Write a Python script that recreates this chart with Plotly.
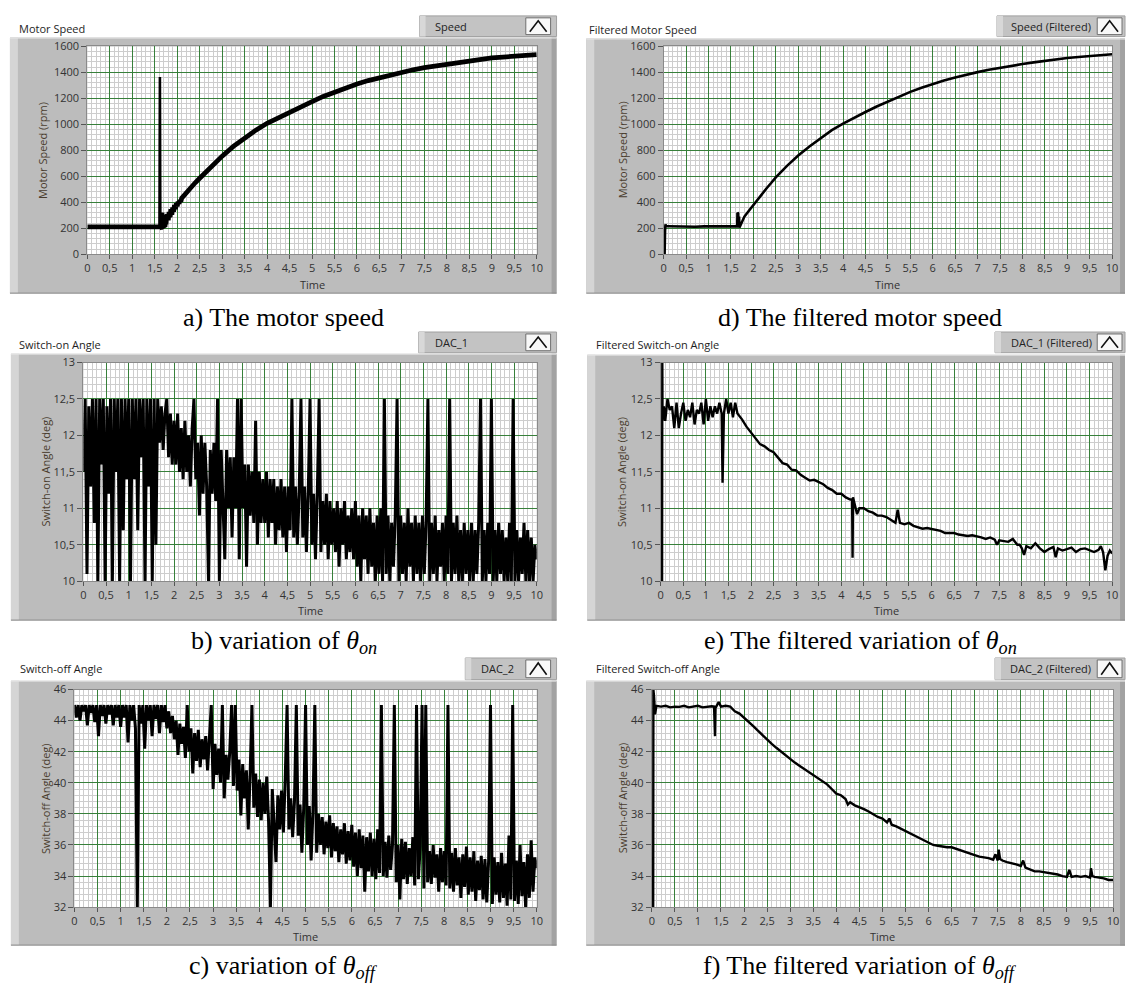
import plotly.graph_objects as go

W, H = 1131, 989

# ---------------- data ----------------
x_tick_vals = [0, 0.5, 1, 1.5, 2, 2.5, 3, 3.5, 4, 4.5, 5, 5.5, 6, 6.5, 7, 7.5, 8, 8.5, 9, 9.5, 10]
x_tick_text = ["0", "0,5", "1", "1,5", "2", "2,5", "3", "3,5", "4", "4,5", "5", "5,5",
               "6", "6,5", "7", "7,5", "8", "8,5", "9", "9,5", "10"]
speed_tick_vals = [0, 200, 400, 600, 800, 1000, 1200, 1400, 1600]
speed_tick_text = ["0", "200", "400", "600", "800", "1000", "1200", "1400", "1600"]
on_tick_vals = [10, 10.5, 11, 11.5, 12, 12.5, 13]
on_tick_text = ["10", "10,5", "11", "11,5", "12", "12,5", "13"]
off_tick_vals = [32, 34, 36, 38, 40, 42, 44, 46]
off_tick_text = ["32", "34", "36", "38", "40", "42", "44", "46"]

# a) raw motor speed (time, rpm) -- the short transient spike, then the noisy rise
speed_spike = [(1.605, 210), (1.615, 1365), (1.625, 210)]
speed_raw = [(0, 210), (1.65, 210),
             (1.66, 320), (1.67, 212), (1.68, 315), (1.69, 215), (1.70, 305), (1.71, 218),
             (1.72, 300), (1.73, 222), (1.74, 295), (1.75, 230), (1.76, 292),
             (1.78, 300), (1.80, 262), (1.82, 325), (1.84, 285), (1.86, 345), (1.88, 305),
             (1.90, 360), (1.92, 328), (1.94, 378), (1.96, 348), (1.98, 392), (2.00, 368),
             (2.02, 405), (2.04, 388), (2.06, 418), (2.08, 405), (2.10, 432),
             (2.2, 475), (2.3, 515), (2.4, 550), (2.5, 585), (2.6, 620), (2.7, 655),
             (2.8, 690), (2.9, 725), (3.0, 755), (3.25, 830), (3.5, 895), (3.75, 955),
             (4.0, 1008), (4.25, 1052), (4.5, 1095), (4.75, 1138), (5.0, 1175), (5.25, 1215),
             (5.5, 1250), (5.75, 1282), (6.0, 1311), (6.25, 1337), (6.5, 1360), (6.75, 1382),
             (7.0, 1402), (7.25, 1420), (7.5, 1436), (7.75, 1450), (8.0, 1463), (8.25, 1477),
             (8.5, 1490), (8.75, 1501), (9.0, 1511), (9.25, 1518), (9.5, 1525), (9.75, 1530),
             (10.0, 1537)]

# d) filtered motor speed (time, rpm)
speed_filt = [(0.0, 0), (0.02, 0), (0.03, 180), (0.04, 230), (0.05, 215), (0.1, 215),
              (0.3, 213), (0.5, 215), (0.7, 212), (0.9, 214), (1.1, 213), (1.3, 215),
              (1.5, 213), (1.64, 215), (1.645, 320), (1.66, 315), (1.665, 215), (1.68, 290),
              (1.69, 205), (1.72, 230), (1.8, 290), (1.9, 335), (2.0, 380), (2.1, 425),
              (2.2, 470), (2.3, 510), (2.4, 550), (2.5, 592), (2.75, 680), (3.0, 760),
              (3.25, 830), (3.5, 895), (3.75, 955), (4.0, 1005), (4.25, 1052), (4.5, 1095),
              (4.75, 1137), (5.0, 1175), (5.25, 1213), (5.5, 1250), (5.75, 1282), (6.0, 1311),
              (6.25, 1337), (6.5, 1360), (6.75, 1382), (7.0, 1402), (7.25, 1420), (7.5, 1436),
              (7.75, 1450), (8.0, 1464), (8.25, 1477), (8.5, 1490), (8.75, 1501), (9.0, 1511),
              (9.25, 1518), (9.5, 1525), (9.75, 1531), (10.0, 1540)]

# b) raw switch-on angle, one sample every 0.04 s
raw_step = 0.04
on_raw = [
    11.5, 12.5, 10.1, 12.4, 11.3, 12.5, 10.8, 12.5, 10.0, 12.5, 11.6, 12.5, 10.0, 12.4, 11.2, 12.5, 10.0, 12.5, 11.5, 12.5, 10.0, 12.5, 10.7, 12.5, 11.4,
    12.5, 10.0, 12.5, 11.4, 12.5, 10.7, 12.5, 11.7, 12.5, 10.0, 12.5, 11.3, 12.5, 10.0, 12.5, 10.5, 12.5, 11.9, 12.4, 11.8, 12.3, 12.5, 11.7, 12.3, 11.6,
    12.2, 11.6, 12.3, 11.5, 12.1, 11.4, 12.2, 11.5, 12.0, 11.3, 12.1, 12.5, 11.4, 11.9, 10.9, 12.0, 11.2, 11.9, 11.3, 10.0, 11.8, 11.2, 11.9, 11.1, 12.5,
    10.0, 11.8, 11.1, 10.3, 11.8, 11.0, 11.7, 10.6, 11.7, 11.0, 12.5, 10.3, 12.5, 11.0, 11.6, 10.2, 11.6, 10.9, 11.5, 10.8, 12.2, 10.5, 11.5, 10.8, 11.4,
    10.8, 11.5, 10.6, 11.4, 10.8, 11.4, 10.5, 11.3, 10.7, 11.4, 10.6, 11.3, 10.4, 11.3, 10.7, 12.5, 10.6, 11.3, 10.5, 11.2, 12.5, 10.6, 11.3, 10.4, 11.2,
    12.5, 10.5, 11.2, 10.3, 11.2, 12.5, 10.4, 11.1, 10.5, 11.2, 10.3, 11.1, 10.5, 11.0, 10.4, 11.1, 10.2, 11.0, 10.5, 11.1, 10.3, 10.9, 10.4, 11.0, 10.3,
    11.1, 10.2, 10.9, 10.0, 11.0, 10.3, 10.9, 10.1, 11.0, 10.2, 10.8, 10.0, 10.9, 10.1, 11.0, 10.0, 12.5, 10.1, 10.9, 10.0, 10.8, 10.2, 10.9, 12.5, 10.0,
    10.9, 10.1, 10.8, 10.0, 11.0, 10.2, 10.8, 10.0, 10.9, 10.1, 10.8, 10.0, 10.9, 10.1, 10.8, 12.5, 10.0, 10.8, 10.1, 10.9, 10.0, 10.7, 10.2, 10.8, 10.0,
    10.9, 10.1, 12.5, 10.0, 10.8, 10.1, 10.9, 10.0, 10.7, 10.0, 10.8, 10.1, 10.7, 10.0, 10.8, 10.0, 10.7, 10.1, 10.8, 12.5, 10.0, 10.7, 10.0, 10.8, 10.1,
    12.5, 10.0, 10.7, 10.0, 10.8, 10.1, 10.7, 10.0, 10.6, 10.0, 10.8, 10.0, 12.5, 10.0, 10.7, 10.0, 10.6, 10.1, 10.8, 10.0, 10.7, 10.0, 10.6, 10.0, 10.5, 10.3,
]

# c) raw switch-off angle, one sample every 0.04 s
off_raw = [
    45.0, 44.2, 45.0, 44.0, 45.0, 44.6, 45.0, 43.7, 45.0, 44.5, 45.0, 43.9, 45.0, 43.0, 45.0, 44.3, 45.0, 43.8, 45.0, 44.4, 45.0, 43.7, 45.0, 44.2, 45.0,
    43.6, 45.0, 44.2, 45.0, 42.6, 45.0, 44.0, 45.0, 43.5, 32.0, 45.0, 43.8, 45.0, 42.2, 45.0, 44.0, 45.0, 43.0, 45.0, 44.1, 45.0, 43.2, 45.0, 43.9, 45.0,
    43.5, 44.6, 43.2, 44.3, 42.8, 44.0, 41.8, 43.8, 42.5, 43.6, 41.6, 45.0, 42.0, 43.5, 40.6, 43.2, 41.4, 43.4, 41.0, 42.8, 41.5, 43.0, 40.8, 42.6, 45.0,
    39.6, 42.5, 40.5, 42.2, 40.0, 45.0, 39.0, 41.8, 40.2, 42.0, 45.0, 39.8, 45.0, 39.5, 41.5, 37.9, 41.2, 39.0, 40.8, 37.0, 40.5, 45.0, 38.4, 40.6, 37.8,
    40.2, 37.6, 40.0, 38.0, 40.4, 37.5, 32.0, 39.6, 37.2, 34.9, 39.2, 37.0, 39.5, 36.8, 40.3, 45.0, 37.0, 39.0, 36.5, 38.8, 45.0, 36.6, 38.6, 35.5, 38.4,
    45.0, 36.0, 38.5, 35.0, 38.2, 45.0, 35.5, 38.0, 36.0, 37.8, 35.4, 37.5, 35.8, 37.9, 35.2, 37.4, 35.6, 37.2, 34.9, 37.0, 35.4, 37.4, 34.8, 36.9, 35.0,
    37.3, 34.6, 36.8, 34.0, 37.0, 34.5, 36.6, 33.0, 36.5, 34.3, 36.8, 34.0, 36.4, 33.8, 37.0, 34.2, 45.0, 34.0, 36.2, 33.9, 36.6, 34.4, 36.0, 45.0, 33.6,
    36.0, 32.5, 36.4, 33.8, 36.2, 33.5, 35.8, 34.0, 36.5, 33.4, 45.0, 33.8, 35.9, 45.0, 33.2, 45.0, 33.6, 35.6, 33.5, 36.0, 33.9, 35.4, 33.0, 35.8, 33.6,
    35.6, 33.4, 45.0, 33.2, 35.5, 33.0, 35.8, 33.4, 35.2, 32.6, 35.4, 33.3, 35.9, 32.8, 35.2, 33.0, 35.6, 32.4, 35.0, 33.1, 35.3, 32.5, 35.1, 32.3, 35.0,
    45.0, 32.2, 35.2, 32.8, 34.9, 32.3, 35.5, 32.6, 34.8, 32.1, 36.6, 32.5, 45.0, 32.4, 35.0, 32.2, 36.0, 32.7, 34.9, 32.0, 35.4, 32.6, 36.3, 33.0, 35.2, 34.5,
]

# e) filtered switch-on angle (time, deg)
on_filt = [(0.03, 10.0), (0.035, 13.0), (0.04, 12.2), (0.07, 12.4), (0.1, 12.2), (0.15, 12.5),
           (0.2, 12.35), (0.25, 12.4), (0.3, 12.1), (0.35, 12.45), (0.4, 12.1), (0.45, 12.3),
           (0.5, 12.45), (0.55, 12.2), (0.6, 12.35), (0.65, 12.25), (0.7, 12.45), (0.75, 12.15),
           (0.8, 12.35), (0.85, 12.3), (0.9, 12.45), (0.95, 12.15), (1.0, 12.5), (1.05, 12.2),
           (1.1, 12.4), (1.15, 12.25), (1.2, 12.4), (1.25, 12.3), (1.3, 12.45), (1.35, 12.3),
           (1.37, 11.35), (1.4, 12.3), (1.45, 12.5), (1.5, 12.3), (1.55, 12.45), (1.6, 12.25),
           (1.65, 12.45), (1.7, 12.3), (1.8, 12.22), (1.9, 12.12), (2.0, 12.04), (2.1, 11.97),
           (2.2, 11.88), (2.3, 11.85), (2.4, 11.8), (2.5, 11.77), (2.6, 11.7), (2.7, 11.62),
           (2.8, 11.6), (2.9, 11.53), (3.0, 11.52), (3.1, 11.46), (3.2, 11.42), (3.3, 11.38),
           (3.4, 11.39), (3.5, 11.36), (3.6, 11.33), (3.7, 11.28), (3.8, 11.25), (3.9, 11.2),
           (4.0, 11.2), (4.1, 11.15), (4.2, 11.12), (4.24, 11.12), (4.25, 10.32), (4.26, 11.15),
           (4.3, 11.05), (4.35, 10.92), (4.4, 11.0), (4.5, 11.0), (4.6, 10.96), (4.7, 10.94),
           (4.8, 10.9), (4.9, 10.9), (5.0, 10.88), (5.1, 10.84), (5.2, 10.8), (5.25, 10.98),
           (5.3, 10.8), (5.4, 10.78), (5.5, 10.8), (5.6, 10.76), (5.7, 10.74), (5.8, 10.72),
           (5.9, 10.73), (6.0, 10.72), (6.1, 10.7), (6.2, 10.69), (6.3, 10.66), (6.4, 10.66),
           (6.5, 10.66), (6.6, 10.64), (6.7, 10.63), (6.8, 10.62), (6.9, 10.63), (7.0, 10.62),
           (7.1, 10.6), (7.2, 10.58), (7.3, 10.6), (7.4, 10.57), (7.45, 10.5), (7.5, 10.56),
           (7.6, 10.55), (7.7, 10.54), (7.8, 10.58), (7.9, 10.5), (7.95, 10.5), (8.0, 10.45),
           (8.05, 10.36), (8.1, 10.48), (8.2, 10.45), (8.3, 10.52), (8.4, 10.45), (8.5, 10.4),
           (8.6, 10.44), (8.7, 10.47), (8.75, 10.33), (8.8, 10.45), (8.9, 10.42), (9.0, 10.44),
           (9.1, 10.46), (9.2, 10.4), (9.3, 10.44), (9.4, 10.45), (9.5, 10.42), (9.6, 10.4),
           (9.7, 10.43), (9.75, 10.48), (9.8, 10.4), (9.85, 10.15), (9.9, 10.35), (9.95, 10.42),
           (10.0, 10.38)]

# f) filtered switch-off angle (time, deg)
off_filt = [(0.03, 32.0), (0.035, 46.0), (0.04, 44.2), (0.05, 45.5), (0.07, 44.4), (0.1, 44.95),
            (0.2, 44.9), (0.3, 44.95), (0.4, 44.85), (0.5, 44.9), (0.6, 44.88), (0.7, 44.95),
            (0.8, 44.85), (0.9, 44.9), (1.0, 44.95), (1.1, 44.85), (1.2, 44.9), (1.3, 44.92),
            (1.35, 44.9), (1.37, 43.0), (1.38, 44.8), (1.4, 44.9), (1.45, 45.2), (1.5, 44.9),
            (1.6, 44.95), (1.7, 44.9), (1.8, 44.6), (1.9, 44.45), (2.0, 44.2), (2.1, 43.95),
            (2.2, 43.65), (2.3, 43.35), (2.4, 43.05), (2.5, 42.78), (2.6, 42.5), (2.7, 42.25),
            (2.8, 42.0), (2.9, 41.8), (3.0, 41.55), (3.1, 41.3), (3.2, 41.1), (3.3, 40.9),
            (3.4, 40.72), (3.5, 40.55), (3.6, 40.35), (3.7, 40.1), (3.8, 39.9), (3.9, 39.6),
            (4.0, 39.3), (4.1, 39.2), (4.2, 38.95), (4.25, 38.6), (4.3, 38.75), (4.4, 38.55),
            (4.5, 38.45), (4.6, 38.3), (4.7, 38.15), (4.8, 37.95), (4.9, 37.8), (5.0, 37.7),
            (5.1, 37.45), (5.15, 37.7), (5.2, 37.3), (5.3, 37.2), (5.4, 37.05), (5.5, 36.95),
            (5.6, 36.8), (5.7, 36.6), (5.8, 36.45), (5.9, 36.3), (6.0, 36.2), (6.1, 36.0),
            (6.2, 35.95), (6.3, 35.9), (6.4, 35.85), (6.5, 35.85), (6.6, 35.75), (6.7, 35.6),
            (6.8, 35.5), (6.9, 35.45), (7.0, 35.35), (7.1, 35.25), (7.2, 35.2), (7.3, 35.15),
            (7.4, 35.05), (7.45, 35.4), (7.5, 35.0), (7.52, 35.7), (7.55, 35.1), (7.6, 35.0),
            (7.7, 34.9), (7.8, 34.8), (7.9, 34.75), (8.0, 34.65), (8.05, 35.0), (8.1, 34.55),
            (8.2, 34.4), (8.3, 34.3), (8.4, 34.3), (8.5, 34.25), (8.6, 34.2), (8.7, 34.15),
            (8.8, 34.1), (8.9, 34.0), (9.0, 33.95), (9.05, 34.4), (9.1, 33.95), (9.2, 34.0),
            (9.3, 33.95), (9.4, 34.0), (9.5, 33.9), (9.52, 34.5), (9.55, 34.0), (9.6, 33.95),
            (9.7, 33.9), (9.8, 33.85), (9.9, 33.75), (10.0, 33.75)]

raw_t = [round(i * raw_step, 3) for i in range(len(on_raw))]
raw_t_off = [round(i * raw_step, 3) for i in range(len(off_raw))]

# each panel: list of (x, y, line width)
series = {
    "a": [([p[0] for p in speed_raw], [p[1] for p in speed_raw], 4.8),
          ([p[0] for p in speed_spike], [p[1] for p in speed_spike], 2.6)],
    "d": [([p[0] for p in speed_filt], [p[1] for p in speed_filt], 2.6)],
    "b": [(raw_t, on_raw, 3.0)],
    "c": [(raw_t_off, off_raw, 3.0)],
    "e": [([p[0] for p in on_filt], [p[1] for p in on_filt], 2.4)],
    "f": [([p[0] for p in off_filt], [p[1] for p in off_filt], 2.4)],
}

# ---------------- layout config (pixels) ----------------
panels = [
    dict(key="a", plot=(85, 39, 538, 250), box=(7, 30, 558, 290), title="Motor Speed", tx=14, ty=21,
         leg=(420, 8, 558, 29), leg_text="Speed", ltx=433, ytitle="Motor Speed (rpm)", ytx=40,
         time_y=281, cap="a) The motor speed", cx=283, cy=314, yr=(0, 1600),
         yt=(speed_tick_vals, speed_tick_text), ymin=40),
    dict(key="d", plot=(666, 39, 1118, 250), box=(588, 31, 1131, 290), title="Filtered Motor Speed",
         tx=589, ty=22, leg=(1002, 8, 1131, 29), leg_text="Speed (Filtered)", ltx=1014,
         ytitle="Motor Speed (rpm)", ytx=624, time_y=281, cap="d) The filtered motor speed",
         cx=864, cy=314, yr=(0, 1600), yt=(speed_tick_vals, speed_tick_text), ymin=40),
    dict(key="b", plot=(81, 360, 538, 582), box=(8, 351, 558, 622), title="Switch-on Angle", tx=14,
         ty=342, leg=(419, 329, 558, 350), leg_text="DAC_1", ltx=433, ytitle="Switch-on Angle (deg)",
         ytx=43, time_y=612, cap="b) variation of <i>θ</i><sub><i>on</i></sub>", cx=283, cy=644,
         yr=(10, 13), yt=(on_tick_vals, on_tick_text), ymin=0.1),
    dict(key="e", plot=(663, 360, 1118, 582), box=(589, 352, 1131, 622),
         title="Filtered Switch-on Angle", tx=596, ty=342, leg=(1000, 329, 1131, 350),
         leg_text="DAC_1 (Filtered)", ltx=1014, ytitle="Switch-on Angle (deg)", ytx=624,
         time_y=612, cap="e) The filtered variation of <i>θ</i><sub><i>on</i></sub>", cx=864,
         cy=644, yr=(10, 13), yt=(on_tick_vals, on_tick_text), ymin=0.1),
    dict(key="c", plot=(72, 692, 538, 913), box=(8, 683, 558, 952), title="Switch-off Angle", tx=15,
         ty=671, leg=(466, 660, 558, 682), leg_text="DAC_2", ltx=480, ytitle="Switch-off Angle (deg)",
         ytx=43, time_y=943, cap="c) variation of <i>θ</i><sub><i>off</i></sub>", cx=283, cy=974,
         yr=(32, 46), yt=(off_tick_vals, off_tick_text), ymin=0.4),
    dict(key="f", plot=(654, 692, 1119, 913), box=(588, 683, 1131, 952),
         title="Filtered Switch-off Angle", tx=596, ty=671, leg=(1000, 660, 1131, 682),
         leg_text="DAC_2 (Filtered)", ltx=1013, ytitle="Switch-off Angle (deg)", ytx=624,
         time_y=943, cap="f) The filtered variation of <i>θ</i><sub><i>off</i></sub>", cx=864,
         cy=974, yr=(32, 46), yt=(off_tick_vals, off_tick_text), ymin=0.4),
]

GREEN = "#37803a"
MINOR = "#cdcdcd"
TICKFONT = dict(family="Open Sans", size=11, color="#333333")


def X(px):
    return px / W


def Y(py):
    return 1 - py / H


def rect(x0, y0, x1, y1, fill, line=None, lw=0, layer="below"):
    return dict(type="rect", xref="paper", yref="paper", x0=X(x0), x1=X(x1), y0=Y(y1), y1=Y(y0),
                fillcolor=fill, line=dict(width=lw, color=line or fill), layer=layer)


def hline(x0, x1, y, color, layer="below"):
    return dict(type="line", xref="paper", yref="paper", x0=X(x0), x1=X(x1), y0=Y(y), y1=Y(y),
                line=dict(width=1, color=color), layer=layer)


fig = go.Figure()
shapes = []
annotations = []
layout_axes = {}

for i, p in enumerate(panels, start=1):
    s = "" if i == 1 else str(i)
    l, t, r, b = p["plot"]
    bx0, by0, bx1, by1 = p["box"]
    # panel body
    shapes.append(rect(bx0, by0, bx1, by1, "#bcbcbc"))
    shapes.append(rect(bx0, by0, bx0 + 8, by1, "#d5d5d5"))
    shapes.append(rect(bx1 - 5, by0, bx1, by1, "#a2a2a2"))
    shapes.append(hline(bx0, bx1, by0 + 0.5, "#e6e6e6"))
    shapes.append(hline(bx0, bx1, by1 - 0.5, "#8c8c8c"))
    # plot area
    shapes.append(rect(l, t, r, b, "#ffffff"))
    # legend box + button
    lx0, ly0, lx1, ly1 = p["leg"]
    shapes.append(rect(lx0, ly0, lx1, ly1, "#c3c3c3", "#a0a0a0", 1, "above"))
    shapes.append(rect(lx0, ly0, lx0 + 6, ly1, "#d8d8d8", None, 0, "above"))
    btx1 = lx1 - 6 if lx1 < 1130 else lx1 - 3
    btx0 = btx1 - 25
    shapes.append(rect(btx0, ly0 + 2, btx1, ly1 - 2, "#f8f8f8", "#707070", 1, "above"))
    cxm = (btx0 + btx1) / 2
    shapes.append(dict(type="path", xref="paper", yref="paper", layer="above",
                       path=f"M {X(btx0 + 4)},{Y(ly1 - 5)} L {X(cxm)},{Y(ly0 + 5)} L {X(btx1 - 4)},{Y(ly1 - 5)}",
                       line=dict(color="#111111", width=1.6)))
    annotations.append(dict(x=X(p["ltx"]), y=Y((ly0 + ly1) / 2), xref="paper", yref="paper",
                            text=p["leg_text"], showarrow=False, xanchor="left", yanchor="middle",
                            font=dict(family="Open Sans", size=11, color="#222222")))
    # titles
    annotations.append(dict(x=X(p["tx"]), y=Y(p["ty"]), xref="paper", yref="paper", text=p["title"],
                            showarrow=False, xanchor="left", yanchor="middle",
                            font=dict(family="Open Sans", size=11, color="#1e1e1e")))
    annotations.append(dict(x=X(p["ytx"]), y=Y((t + b) / 2), xref="paper", yref="paper",
                            text=p["ytitle"], textangle=-90, showarrow=False, xanchor="center",
                            yanchor="middle", font=dict(family="Open Sans", size=11, color="#4a3d2e")))
    annotations.append(dict(x=X((l + r) / 2), y=Y(p["time_y"]), xref="paper", yref="paper",
                            text="Time", showarrow=False, xanchor="center", yanchor="middle",
                            font=dict(family="Open Sans", size=11, color="#333333")))
    annotations.append(dict(x=X(p["cx"]), y=Y(p["cy"]), xref="paper", yref="paper", text=p["cap"],
                            showarrow=False, xanchor="center", yanchor="middle",
                            font=dict(family="Liberation Serif", size=26, color="#000000")))

    layout_axes["xaxis" + s] = dict(
        domain=[X(l), X(r)], anchor="y" + s, range=[0, 10], tickmode="array",
        tickvals=x_tick_vals, ticktext=x_tick_text, showgrid=True, gridcolor=GREEN, gridwidth=1,
        minor=dict(tickmode="linear", tick0=0, dtick=0.1, showgrid=True, gridcolor=MINOR, gridwidth=1),
        ticks="outside", ticklen=4, tickcolor="#555555", tickfont=TICKFONT, showline=True,
        mirror=True, linecolor="#8a8a8a", linewidth=1, zeroline=False, fixedrange=True)
    yvals, ytext = p["yt"]
    layout_axes["yaxis" + s] = dict(
        domain=[Y(b), Y(t)], anchor="x" + s, range=list(p["yr"]), tickmode="array",
        tickvals=yvals, ticktext=ytext, showgrid=True, gridcolor=GREEN, gridwidth=1,
        minor=dict(tickmode="linear", tick0=p["yr"][0], dtick=p["ymin"], showgrid=True,
                   gridcolor=MINOR, gridwidth=1),
        ticks="outside", ticklen=5, tickcolor="#555555", tickfont=TICKFONT, showline=True,
        mirror=True, linecolor="#8a8a8a", linewidth=1, zeroline=False, fixedrange=True)

    for xs, ys, lw in series[p["key"]]:
        fig.add_trace(go.Scatter(x=xs, y=ys, mode="lines", line=dict(color="#000000", width=lw),
                                 xaxis="x" + s, yaxis="y" + s, showlegend=False, hoverinfo="skip"))

fig.update_layout(width=W, height=H, autosize=False, margin=dict(l=0, r=0, t=0, b=0, pad=0),
                  paper_bgcolor="#ffffff", plot_bgcolor="rgba(0,0,0,0)", shapes=shapes,
                  annotations=annotations, showlegend=False, **layout_axes)

fig.write_html("out.html")
